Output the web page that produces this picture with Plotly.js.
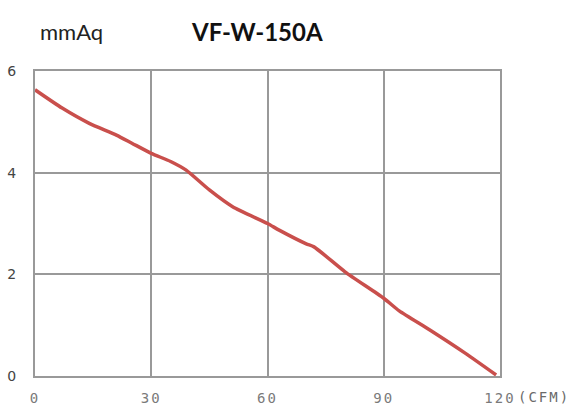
<!DOCTYPE html>
<html><head><meta charset="utf-8">
<script src="https://cdn.plot.ly/plotly-3.0.1.min.js"></script>
<style>
html,body{margin:0;padding:0;background:#fff;}
#chart{width:585px;height:407px;}
#chart .xtick text, #chart .cfm-label text{letter-spacing:2px;}
</style>
</head><body><div id="chart"></div>
<script>
const flowCFM = [0, 7, 14, 21, 25, 30, 35, 39, 45, 51, 60, 63, 70, 72, 80, 90, 94, 102, 111, 119];
const pressureMmAq = [5.63, 5.27, 4.97, 4.74, 4.58, 4.38, 4.22, 4.05, 3.66, 3.33, 3.0, 2.87, 2.6, 2.54, 2.05, 1.53, 1.28, 0.9, 0.45, 0.02];
const xTicks = [0, 30, 60, 90, 120];
const xTickText = ["0", "30", "60", "90", "120"];
const yTicks = [0, 2, 4, 6];
const unitY = "mmAq";
const modelName = "VF-W-150A";
const unitX = "(CFM)";

const trace = {
  x: flowCFM, y: pressureMmAq, mode: 'lines', type: 'scatter',
  line: {color: '#c94f4c', width: 3.5, shape: 'spline', smoothing: 0.6},
  hoverinfo: 'skip', showlegend: false
};
const layout = {
  width: 585, height: 407,
  margin: {l: 35, r: 85, t: 71, b: 31},
  paper_bgcolor: '#fff', plot_bgcolor: '#fff',
  xaxis: {
    range: [0, 120], tickvals: xTicks, ticktext: xTickText,
    showgrid: true, gridcolor: '#999', gridwidth: 2,
    showline: true, linecolor: '#999', linewidth: 2, mirror: true,
    zeroline: false, ticks: '', ticklabelstandoff: 8,
    tickfont: {family: 'DejaVu Sans Mono', size: 14, color: '#7a7a7a'}
  },
  yaxis: {
    range: [0, 6], tickvals: yTicks,
    showgrid: true, gridcolor: '#999', gridwidth: 2,
    showline: true, linecolor: '#999', linewidth: 2, mirror: true,
    zeroline: false, ticks: '', ticklabelstandoff: 14,
    tickfont: {family: 'DejaVu Sans', size: 14, color: '#444'}
  },
  annotations: [
    {text: unitY, xref: 'paper', yref: 'paper', x: 0.0065, y: 1.128, xanchor: 'left', yanchor: 'middle', showarrow: false,
     font: {family: 'Lato, Open Sans', size: 22, color: '#222'}},
    {text: '<b>' + modelName + '</b>', xref: 'paper', yref: 'paper', x: 0.331, y: 1.128, xanchor: 'left', yanchor: 'middle', showarrow: false,
     font: {family: 'Lato, Open Sans', size: 24, color: '#111'}},
    {text: unitX, xref: 'paper', yref: 'paper', x: 1.045, y: -0.07, xanchor: 'left', yanchor: 'middle', showarrow: false,
     font: {family: 'DejaVu Sans Mono', size: 14, color: '#6a6a6a'}}
  ]
};
Plotly.newPlot('chart', [trace], layout, {displayModeBar: false, staticPlot: true}).then(function(){
  const anns = document.querySelectorAll('#chart .annotation');
  if (anns.length) anns[anns.length-1].classList.add('cfm-label');
});
</script>
</body></html>
